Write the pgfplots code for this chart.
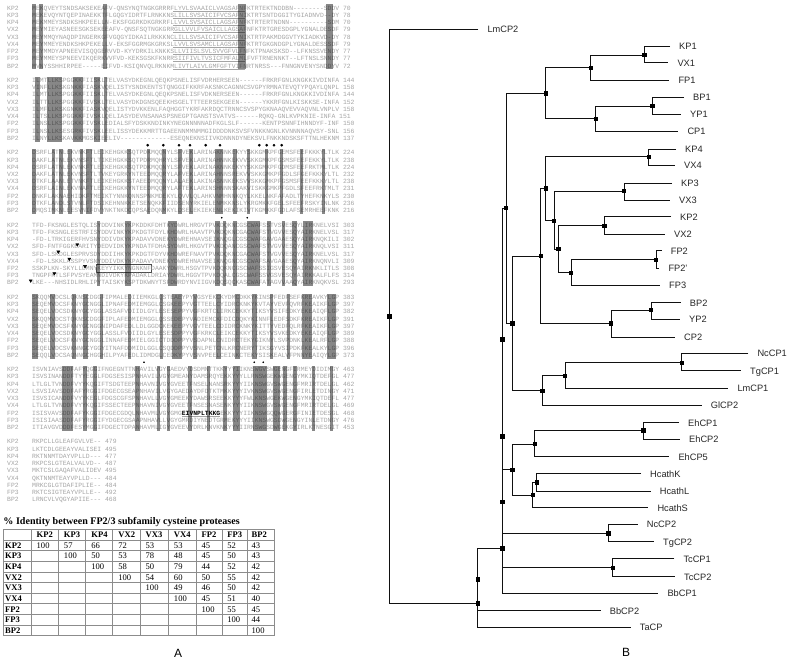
\documentclass[border=0pt]{standalone}
\usepackage{fontspec}
\setmainfont{Liberation Sans}
\setmonofont{Liberation Mono}
\newfontfamily\serif{Liberation Serif}
\usepackage{pgfplots}
\pgfplotsset{compat=1.18}
\definecolor{seqgray}{HTML}{A4A4A4}
\definecolor{gridgray}{HTML}{8C8C8C}
\definecolor{treegray}{HTML}{111111}
\tikzset{
  seqtxt/.style={anchor=base west,inner sep=0pt,text=seqgray,font=\ttfamily\fontsize{6.42}{7}\selectfont},
  leaf/.style={anchor=base west,inner sep=0pt,text=black!85,font=\fontsize{9.3}{11}\selectfont},
  tab/.style={anchor=base west,inner sep=0pt,text=black},
  treeline/.style={draw=treegray,line width=0.75pt},
  gridline/.style={draw=gridgray,line width=0.7pt}}
\newcommand\yz{8}
\newcommand\ys{7.23}
% alignment row: #1 row slot, #2 name, #3 sequence + end position
\newcommand\srow[3]{%
  \node[seqtxt] at (axis cs:7,{\yz+\ys*#1+2.2}) {#2};
  \node[seqtxt] at (axis cs:32,{\yz+\ys*#1+2.2}) {#3};}
% shaded alignment box (drawn over the letters, half transparent)
\newcommand\bx[4]{\addplot[on layer=axis foreground,fill=black,fill opacity=0.47,draw=none] coordinates {(#1,#3) (#2,#3) (#2,#4) (#1,#4)} --cycle;}
\newcommand\bxA[2]{\bx{#1}{#2}{4.4}{69.4}}
\newcommand\bxB[2]{\bx{#1}{#2}{76.7}{141.7}}
\newcommand\bxC[2]{\bx{#1}{#2}{149}{214}}
\newcommand\bxD[2]{\bx{#1}{#2}{221.3}{286.3}}
\newcommand\bxE[2]{\bx{#1}{#2}{293.6}{358.6}}
\newcommand\bxF[2]{\bx{#1}{#2}{365.9}{430.9}}
% tree bracket
\newcommand\br[5]{\addplot[treeline] coordinates {(#1,#2) (#3,#2) (#3,#4) (#5,#4)};}
\newcommand\lf[3]{\node[leaf] at (axis cs:{#2+9},{#3+3.4}) {#1};}
% table
\newcommand\hl[1]{\addplot[gridline] coordinates {(3.3,#1) (274,#1)};}
\newcommand\vl[1]{\addplot[gridline] coordinates {(#1,529.3) (#1,635.7)};}
\newcommand\tc[4]{\node[tab,font=\serif\fontsize{8.6}{10}\selectfont#4] at (axis cs:{#1},{534.6+10.64*#2+3}) {#3};}
\begin{document}
\begin{tikzpicture}
\begin{axis}[width=790bp,height=662bp,scale only axis,set layers,
  xmin=0,xmax=790,ymin=0,ymax=662,y dir=reverse,hide axis,clip=false]
% ---------- shaded columns ----------
\bxA{31.7}{35.7}\bxA{39}{43.3}\bxA{103.3}{107.3}\bxA{237.7}{245.7}\bxA{326}{333.3}
\bxB{35}{39.5}\bxB{46.7}{61.7}\bxB{72.7}{83.3}\bxB{94}{100}\bxB{104}{107.3}
\bxC{31.7}{35.7}\bxC{51.7}{55}\bxC{59.3}{62.7}\bxC{68.3}{71.7}\bxC{80}{83.3}\bxC{86}{91.7}\bxC{100}{103.3}
\bxC{127.3}{130.7}\bxC{146.7}{150}\bxC{162.3}{165.7}\bxC{178.3}{181.7}\bxC{189.3}{192.7}\bxC{215}{222.7}
\bxC{233.3}{237.3}\bxC{246.7}{250}\bxC{265}{268.3}\bxC{280}{283.3}\bxC{300}{303.3}\bxC{321.7}{325.3}
\bxD{96.7}{100}\bxD{125}{130.7}\bxD{168.3}{177.3}\bxD{215}{220}\bxD{222.7}{226}\bxD{233.3}{237.3}
\bxD{246.7}{260}\bxD{266.7}{270.7}\bxD{281.7}{285}\bxD{291.7}{296.7}\bxD{303.3}{313.3}
\bxE{31.7}{38.3}\bxE{50}{55}\bxE{71.7}{76}\bxE{83.3}{88.3}\bxE{100}{103.3}\bxE{127.7}{131}\bxE{160}{163.3}
\bxE{171.7}{181.7}\bxE{193.3}{196.7}\bxE{216}{220.7}\bxE{235}{240}\bxE{251.7}{256.7}\bxE{270}{273.3}
\bxE{286.7}{290}\bxE{301.7}{312}\bxE{326.7}{336}
\bxF{61.7}{73.3}\bxF{83.3}{86.7}\bxF{93.3}{96.7}\bxF{135}{140}\bxF{156.7}{160}\bxF{166.7}{170}
\bxF{188.3}{191.7}\bxF{206.7}{210}\bxF{223.3}{226.7}\bxF{233.3}{240}\bxF{253.3}{266.7}\bxF{273.3}{280}
\bxF{283.3}{286.7}\bxF{293.3}{296.7}\bxF{311.7}{315}\bxF{330}{333.3}
% underlined segment, block 1
\addplot[draw=seqgray,line width=0.4pt] coordinates {(173,11) (245,11)};
\addplot[draw=seqgray,line width=0.4pt] coordinates {(173,18.2) (245,18.2)};
\addplot[draw=seqgray,line width=0.4pt] coordinates {(173,25.5) (245,25.5)};
\addplot[draw=seqgray,line width=0.4pt] coordinates {(173,32.7) (245,32.7)};
\addplot[draw=seqgray,line width=0.4pt] coordinates {(173,39.9) (245,39.9)};
\addplot[draw=seqgray,line width=0.4pt] coordinates {(173,47.2) (245,47.2)};
\addplot[draw=seqgray,line width=0.4pt] coordinates {(173,54.4) (245,54.4)};
\addplot[draw=seqgray,line width=0.4pt] coordinates {(173,61.6) (245,61.6)};
\addplot[draw=seqgray,line width=0.4pt] coordinates {(173,68.8) (245,68.8)};
% boxed segment FP2 block 4
\addplot[draw=black!70,line width=0.5pt] coordinates {(96.7,264.5) (151.7,264.5) (151.7,272) (96.7,272)} --cycle;
% markers
\addplot[only marks,mark=*,mark size=1.15pt,black] coordinates {(147.7,145.2) (163.3,145.2) (179,145.2) (190,145.2) (205.7,145.2) (220,145.2) (259.3,145.2) (266.7,145.2) (274,145.2) (281.7,145.2)};
\addplot[only marks,mark=*,mark size=0.6pt,black] coordinates {(221.7,217.7) (247.3,217.7) (144,362.3) (254.3,362.3) (263.3,362.3)};
\addplot[on layer=axis foreground,only marks,mark=triangle*,mark size=1.7pt,black,mark options={rotate=180}] coordinates {(77.3,244.6) (58.3,251.8) (69.3,259) (85,266.3) (54.3,273.5) (30.7,280.7)};
% ---------- alignment text ----------
\srow{0}{KP2}{MEKQVEYTSNDSAKSEKEAFV-QNSYNQTNGKGRRRFLYVLSVAAICLVAGSAFNFKTRTEKTNDDBN--------SDDV 70}
\srow{1}{KP3}{MEKEVQYNTQEPINAEKKTFLGQGYIDRTFLRNKKNSLILLSVSAICIFVCSAFNIKTRTSNTDGGITYGIADNVD--DY 78}
\srow{2}{KP4}{MEKMMEYSNDKSHKPEELLN-EKSFGGRKDKGRKRFLLVVLSVSAICLLAGSAFNFKTRTERTNDNN----------SDM 70}
\srow{3}{VX2}{MEYMIEYASNEESGKSEKEEAFV-QNSFSQTNGKGRRGLLVVLFVSAICLLAGSAFNFKTRTGRESDGPLYGNALDESDF 79}
\srow{4}{VX3}{MEYMMQYNAQDPINGERKGFVGQGYIDKAILRKKKNCLILLSVSAICIFVCSAFNIKTRTPAKMDGGVTYKIADKVD-DY 78}
\srow{5}{VX4}{MEYMMEYENDKSHKPEKELLV-EKSFGGRMGKGRKSLLVVLSVSAMCLLAGSAFNFKTRTGKGNDGPLYGNALDESSSDF 79}
\srow{6}{FP2}{MEYMMDYAPNEEVISQQGERVVD-KYYDRKILKNKKSLLVIISLSVLSVVGFVLFNFKTPNAKSKSD--LFKNSSVENDY 77}
\srow{7}{FP3}{MEYMMEYSPNEEVIKQERKVVFVD-KEKSGSKFKNRRSIIFIVLTVSICFMFALMLFVFTRNENNKT--LFTNSLSNNDY 77}
\srow{8}{BP2}{MVNYSSHHIRPEE-----EIFVD-KSIQNVQLRKNKMLIVTLAIVLGMFGFTVIFNRTNRSS---FNNGNVENYSNDDYV 72}
\srow{10}{KP2}{ILMTLLKSPGGKKFIISKLTELVASYDKEGNLQEQKPSNELISFVDRHERSEEN------FRKRFGNLKNGKKIVDINFA 144}
\srow{11}{KP3}{VINFLLKSKGNKKFIASKVQELISTYSNDKENTSTQNGGIFKKRFAKSNKCAGNNCSVGPYRMNATEVQTYPQAYLQNPL 158}
\srow{12}{KP4}{ILMTLLKSPGGKKFIISKLTELVASYDKEGNLQEQKPSNELISFVDKNERSEEN------FRKRFGNLKNGKKIVDINFA 144}
\srow{13}{VX2}{ILTTLLKSPGGKKFIVSKLTELVASYDKDGNSQEEKHSGELTTTEERSEKGEEN------YKKRFGNLKISKKSE-INFA 152}
\srow{14}{VX3}{ILMFLLKSKGNKKFIASKVQELISTYDVKKENLFAQHGGTYKRFAKRDQCTRNNCSVSPYGKNAAQVEVVAQVNLVNPLV 158}
\srow{15}{VX4}{ILTSLLKSPGGKKFIVSKLQELIASYDEVNSANASPSNEGPTGANSTSVATVS------RQKQ-GNLKVPKNIE-INFA 151}
\srow{16}{FP2}{ILNSLLKSPGGKKFIVSKLEDIALSFYDSKKNDINKYNEGNNNNNADFKGLSLF------KENTPSNNFIHNNDYF-INF 150}
\srow{17}{FP3}{ILNSLLKSESGRKFIVSKLEELISSYDEKKMRTTGAEENNMMNMMGIDDDDNKSVSFVNKKNGNLKVNNNNAQVSY-SNL 156}
\srow{18}{BP2}{ILNYLLKSKAVKKMGSKIEELIV-------------ESEQNEKNSIIVKDNNNDYNEKSVLFNKKNDSKSFTTNLHEKNM 137}
\srow{20}{KP2}{DSRFLATNLEKVNKFTLEIKEHGKKSQTPDKMQQNYLSFVEKLARINAKNNKEKYYSKKGMKPFGEMSFEEFKKKYLTLK 224}
\srow{21}{KP3}{DAKFLATNLEKVNSFTLTIKEHGKKSQTPDRMQHRYLSFVEKLARINAHNNKEKVVSKKGMKPFGSMSFEEFEKKYLTLK 238}
\srow{22}{KP4}{DSRFLATNLEKVNKFTLEIKEHGKKSQTPDKMQQNYLSFVEKLARINAKNNKEKYYSKKGMKPFGDMSFEEFRKTMLTLK 224}
\srow{23}{VX2}{DAKFLATNLEKVNSFTLTVKEYGRKYNTEEDMQQRYLAFVEKLARINAHNNSREKVVSKKGMKPFGDLSFGEFKKKYLTL 232}
\srow{24}{VX3}{DTKFLAANLETVNKFTLEIKEHGKKSTAEEDMQQNYLALAEKLAKINASNNKEKSVVSKKGMKPFGSMSFEEFKKKYLTL 238}
\srow{25}{VX4}{DSRFLAINLEKVNAFTLEIKEHGKKYNTEEDMQQRYLAFTEKLARINSHNNNSKAKVISKKGMKPFGDLSFEEFRKTMLT 231}
\srow{26}{FP2}{DNKFLAKNAEHIDKFTMEIKTYNNKQNNSPNKMDEKYLQVVLQLAHKVNMHNNKQYLKKELNKFAFADLTYHEFKNKYLS 230}
\srow{27}{FP3}{DTKFLANDLSTVNLFTDSIKEHNNKKETSENQKKFIIDSENYRKIELENMKKNSLYKRGMKKFGELSFEEFRSKYINLNK 236}
\srow{28}{BP2}{DMQSIMKNLEESVNIFDVYNKTNKDCQPSAEDQNMKYLDSELEKIEKENLKEKIKIVTKGMKKFGDLAFSEMRHEEFKNK 216}
\srow{30}{KP2}{TFD-FKSNGLESTQLISYDDVINKYKPKDDKFDHTKYDWRLHRGVTPVKDQKNCGSCWAFSSTVSVESQYLIRKNELVSI 303}
\srow{31}{KP3}{TFD-FKSNGLESTRFISYDDVINKYKPKDGTFDYLKHDWRLHAAVTPVKDQKNCGACWAFSTVGVVESQYAIRKNELVSL 317}
\srow{32}{KP4}{-FD-LTRKIGERFHVSNYDDIVDKYKPADAVVDNEKYDWREHNAVSEIKNQGLCGSCWAFGAVGAAESQYAIRKNQKILI 302}
\srow{33}{VX2}{SFD-FNTFGGKEARITYDEDVIDKYKPNDATFDHASYDWRLHKGVTPVKDQANCGSCWAFSTVGVVESQYAIRKNQLVSI 311}
\srow{34}{VX3}{SFD-LSKDGLESPRVSDYDDIIHKYKPKDGTFDYVKHDWREFNAVTPVKDQKNCGACWAFSTVGVVESQYAIRKNELVSL 317}
\srow{35}{VX4}{-FD-LSKKLASSPYVSNYDDIVDKYKPADAVVDNEKYDWREHNAVSEIKNQGNCGSCWAFSAVGAAESQYAIRKNQNVLI 309}
\srow{36}{FP2}{SSKPLKN-SKYLLDMNYKEYYIKKYNGNKNFDAAKYDWRLHSGVTPVKDQKNCGSCWAFSSIGSVESQYAIRKNKLITLS 308}
\srow{37}{FP3}{TNGPFKTLSFPVSYEAMNDIVDKYKPADAKLDRIAYDWRLHGGVTPVKDQALCGSCWAFSSVGSVESQYAIRKKALFLFS 314}
\srow{38}{BP2}{LKE---NHSIDLRHLIPYTAISKYKSPTDKWNYTSFDWRDYNVIIGVKDQSQCKASCWAFATAGVVAAQYAIRKNQKVSL 293}
\srow{40}{KP2}{SKQQMVDCSLQKNSCDGGFIPMALEDIIEMKGLQSTEAEYPYVGSYEKCKYDMCDKKYKINSPFEDFSEFKREAVKYLGP 383}
\srow{41}{KP3}{SEQEMVDCSFKNYGCNGGLIPNAFEDMIEMGGLCSGKEEPYVGTTEELCYIDRCKNKYKVTAYVEVFQVRFKEAIKFLGP 397}
\srow{42}{KP4}{SEQELVDCSDKNYGCYGGLASSAFVDIIDLGYLESESEPPYVGFKRTCLIRKCEKKYTIKSYVSIFEDKYEKEAIQFLGP 382}
\srow{43}{VX2}{SKQQMVDCSTQKNSCDGGFIPLAFEDMIEMGGLQSSEDEPYVADIEMCKFDICDQKYKINNFLEDFSDKFKREAIKFLGP 391}
\srow{44}{VX3}{SEQEMVDCSFKNYGCNGGNIPDAFEDLLDLGGDCKEKEEPYVGVTEELCDIDRCKNKYKITTYVEDFQLRFKEAIKFLGP 397}
\srow{45}{VX4}{SEQELVDCSDKNYGCYGGLASSLFVDIIDLGYLESESDPPYVGFKRKCLEIKCEKKYTIKSYVSVKEDKYEKEAIQFLGP 389}
\srow{46}{FP2}{SEQELVDCSFKNYGCNGGLINNAFEDMIELGGICTDDDPPYVSDAPNLCNIDRCTEKYGIKNYLSVPDNKLKEALRFLGP 388}
\srow{47}{FP3}{SEQELVDCSVKNNGCYGGYITNAFDDMIDLGGLCSQDDPPYVSNLPETCNLKRCNERYTIKSGYVSIPDKFKEALKYLGP 396}
\srow{48}{BP2}{SEQQLVDCSAQNNGCHGGHILPYAFEDLIDMDGLCEDKYPYVSNVPEELCEINKCTEKYSISKEALVFPNNYEAIQYLGP 373}
\srow{50}{KP2}{ISVNIAVSDDFAFYQGGIFNGEGNTTNHAVILVGYGAEDVYDSDMNTTKKYYYIIKNSWGVSWGENGFIRMEYDIDIMGY 463}
\srow{51}{KP3}{ISVSINANDDFTYYEGGLFDGSESISPNHAVILVGYGMEANYDAMSRQYEKKYYYLLRNSWGEKWGENGYMKIQTDEFGL 477}
\srow{52}{KP4}{LTLGLTVNDDFVYYKQGIFTSDGTEEPNHAVNIVGYGVEETFNSELNANSRKYYYIIKNSWGVSWGENGFMRIRTDELGL 462}
\srow{53}{VX2}{LSVSIAVSDDFAFYRGGIFDGECGSEAPNHAVILVGYGAEDAYDFDTKTMKKYYYIVKNSWGVSWGENGFIRLETDINGY 471}
\srow{54}{VX3}{ISVSICANDDFVYYKEGLFDGSCGFSPNHAVLLVGYGMEEKYDAWSRSEEKKYYYFWLKNSWGEKWGENGYMKIQTDEFL 477}
\srow{55}{VX4}{LTLGLTVNDDFVYYKQGIFSSECTEEPNHAVNIVGYGVEETFNSESNASENKYYYIIKNSWGVSWGENGFMRIRTDELGL 469}
\srow{56}{FP2}{ISISVAVSDDFAFYKGGIFDGECGDQLNHAVMLVGYGMG\underline{\textbf{\textcolor{black}{EIVNPLTKKG}}}EKKYYYIIKNSWGQQWGERGFINIETDESGL 468}
\srow{57}{FP3}{ISISIAASDDFAFYRGGIFYDGECGSAAPNHAVLLVGYGMRDIYNEDTGRMEKYYYIIKNSWGSDWGENGYINLETDNGY 476}
\srow{58}{BP2}{ITIAVGVDDDFESYMGGIFDGECTDPANHAVMLIGYGVEEVYDRLKNVKNKYYYIIRNSWGSDWGEKGYIRLKTNESGIT 453}
\srow{60}{KP2}{RKPCLLGLEAFGVLVE-- 479}
\srow{61}{KP3}{LKTCDLGEEAYVALISEI 495}
\srow{62}{KP4}{RKTNNMTDAYVPLLD--- 477}
\srow{63}{VX2}{RKPCSLGTEALVALVD-- 487}
\srow{64}{VX3}{MKTCSLGAQAFVALIDEV 495}
\srow{65}{VX4}{QKTNNMTEAYVPLLD--- 484}
\srow{66}{FP2}{MRKCGLGTDAFIPLIE-- 484}
\srow{67}{FP3}{RKTCSIGTEAYVPLLE-- 492}
\srow{68}{BP2}{LRNCVLVQGYAPIIE--- 468}
% ---------- identity table ----------
\node[tab,font=\serif\bfseries\fontsize{10.1}{12}\selectfont] at (axis cs:3.3,525) {\% Identity between FP2/3 subfamily cysteine proteases};
\hl{529.3}\hl{539.9}\hl{550.6}\hl{561.2}\hl{571.9}\hl{582.5}\hl{593.1}\hl{603.8}\hl{614.4}\hl{625.1}\hl{635.7}
\vl{3.3}\vl{31}\vl{58.3}\vl{85.7}\vl{112.7}\vl{140}\vl{168.3}\vl{196}\vl{222.7}\vl{247.7}\vl{274}
\tc{36.5}{0}{KP2}{\bfseries}\tc{63.8}{0}{KP3}{\bfseries}\tc{91.2}{0}{KP4}{\bfseries}\tc{118.2}{0}{VX2}{\bfseries}
\tc{145.5}{0}{VX3}{\bfseries}\tc{173.8}{0}{VX4}{\bfseries}\tc{201.5}{0}{FP2}{\bfseries}\tc{227.2}{0}{FP3}{\bfseries}\tc{251.5}{0}{BP2}{\bfseries}
\tc{5}{1}{KP2}{\bfseries}\tc{5}{2}{KP3}{\bfseries}\tc{5}{3}{KP4}{\bfseries}\tc{5}{4}{VX2}{\bfseries}\tc{5}{5}{VX3}{\bfseries}
\tc{5}{6}{VX4}{\bfseries}\tc{5}{7}{FP2}{\bfseries}\tc{5}{8}{FP3}{\bfseries}\tc{5}{9}{BP2}{\bfseries}
\tc{36.5}{1}{100}{}\tc{63.8}{1}{57}{}\tc{91.2}{1}{66}{}\tc{118.2}{1}{72}{}\tc{145.5}{1}{53}{}\tc{173.8}{1}{53}{}\tc{201.5}{1}{45}{}\tc{227.2}{1}{52}{}\tc{251.5}{1}{43}{}
\tc{63.8}{2}{100}{}\tc{91.2}{2}{50}{}\tc{118.2}{2}{53}{}\tc{145.5}{2}{78}{}\tc{173.8}{2}{48}{}\tc{201.5}{2}{45}{}\tc{227.2}{2}{50}{}\tc{251.5}{2}{43}{}
\tc{91.2}{3}{100}{}\tc{118.2}{3}{58}{}\tc{145.5}{3}{50}{}\tc{173.8}{3}{79}{}\tc{201.5}{3}{44}{}\tc{227.2}{3}{52}{}\tc{251.5}{3}{42}{}
\tc{118.2}{4}{100}{}\tc{145.5}{4}{54}{}\tc{173.8}{4}{60}{}\tc{201.5}{4}{50}{}\tc{227.2}{4}{55}{}\tc{251.5}{4}{42}{}
\tc{145.5}{5}{100}{}\tc{173.8}{5}{49}{}\tc{201.5}{5}{46}{}\tc{227.2}{5}{50}{}\tc{251.5}{5}{42}{}
\tc{173.8}{6}{100}{}\tc{201.5}{6}{45}{}\tc{227.2}{6}{51}{}\tc{251.5}{6}{40}{}
\tc{201.5}{7}{100}{}\tc{227.2}{7}{55}{}\tc{251.5}{7}{45}{}
\tc{227.2}{8}{100}{}\tc{251.5}{8}{44}{}
\tc{251.5}{9}{100}{}
% ---------- tree ----------
\br{478.3}{29.3}{389.3}{603.3}{477.7}
\br{477.7}{579.3}{477.7}{627.3}{630.7}
\br{502.3}{548.3}{477.7}{610.7}{600.7}
\br{502.3}{502}{502.3}{593.3}{658.3}
\br{502.3}{436.3}{502.3}{567.7}{612.7}
\br{502.3}{339.3}{502.3}{533.3}{608.3}
\br{506}{208}{502.3}{469.7}{512.3}
\br{545.7}{93.3}{506}{323.3}{512.3}
\br{534.7}{444}{512.3}{495}{532.7}
\br{540.7}{256}{512.3}{390.7}{542.3}
\br{590.7}{67.7}{545.7}{118.7}{595.7}
\br{644.3}{55}{590.7}{80}{669.3}
\br{670}{46}{644.3}{62.7}{668.3}
\br{652.3}{106}{595.7}{131.3}{678.3}
\br{684}{97}{652.3}{114.3}{681}
\br{545.7}{188.3}{540.7}{323.3}{611}
\br{648.7}{156.7}{545.7}{220.7}{554}
\br{676}{149}{648.7}{165.3}{675}
\br{624}{191}{554}{249}{558.3}
\br{672}{183}{624}{200}{670}
\br{604.3}{225.7}{558.3}{272.7}{571}
\br{671}{216.7}{604.3}{234.3}{665}
\br{656}{259.7}{571}{285}{660}
\br{661.7}{250.7}{656}{268}{659.3}
\br{651}{310}{611}{337.3}{675}
\br{680.7}{302.7}{651}{319.3}{680}
\br{565}{375.7}{542.3}{405}{701.7}
\br{681.7}{362.7}{565}{388.3}{728.3}
\br{748.3}{353.3}{681.7}{370.7}{741}
\br{643.3}{430.3}{534.7}{456.7}{669.3}
\br{679}{422.7}{643.3}{439}{680}
\br{536.7}{482.3}{532.7}{507.7}{648.3}
\br{641}{473.7}{536.7}{491.3}{650.7}
\br{637.7}{524.3}{608.3}{541.7}{654}
\br{674.3}{558.7}{612.7}{576.7}{675}
\addplot[only marks,mark=square*,mark size=1.7pt,black] coordinates {
(389.3,316.3) (477.7,603.3) (477.7,579.3) (502.3,548.3) (502.3,502) (502.3,436.3) (502.3,339.3)
(506,208) (512.3,469.7) (512.3,323.3) (545.7,93.3) (590.7,67.7) (644.3,55) (595.7,118.7) (652.3,106)
(540.7,256) (545.7,188.3) (648.7,156.7) (554,220.7) (624,191) (558.3,249) (604.3,225.7) (571,272.7)
(656,259.7) (611,323.3) (651,310) (542.3,390.7) (565,375.7) (681.7,362.7) (534.7,444) (643.3,430.3)
(532.7,495) (536.7,482.3) (608.3,533.3) (612.7,567.7)};
\lf{LmCP2}{478.3}{29.3}\lf{KP1}{670}{46}\lf{VX1}{668.3}{62.7}\lf{FP1}{669.3}{80}
\lf{BP1}{684}{97}\lf{YP1}{681}{114.3}\lf{CP1}{678.3}{131.3}\lf{KP4}{676}{149}
\lf{VX4}{675}{165.3}\lf{KP3}{672}{183}\lf{VX3}{670}{200}\lf{KP2}{671}{216.7}
\lf{VX2}{665}{234.3}\lf{FP2}{661.7}{250.7}\lf{FP2'}{659.3}{268}\lf{FP3}{660}{285}
\lf{BP2}{680.7}{302.7}\lf{YP2}{680}{319.3}\lf{CP2}{675}{337.3}\lf{NcCP1}{748.3}{353.3}
\lf{TgCP1}{741}{370.7}\lf{LmCP1}{728.3}{388.3}\lf{GlCP2}{701.7}{405}\lf{EhCP1}{679}{422.7}
\lf{EhCP2}{680}{439}\lf{EhCP5}{669.3}{456.7}\lf{HcathK}{641}{473.7}\lf{HcathL}{650.7}{491.3}
\lf{HcathS}{648.3}{507.7}\lf{NcCP2}{637.7}{524.3}\lf{TgCP2}{654}{541.7}\lf{TcCP1}{674.3}{558.7}
\lf{TcCP2}{675}{576.7}\lf{BbCP1}{658.3}{593.3}\lf{BbCP2}{600.7}{610.7}\lf{TaCP}{630.7}{627.3}
% panel letters
\node[anchor=base,inner sep=0pt,font=\fontsize{12}{14}\selectfont] at (axis cs:178,657.3) {A};
\node[anchor=base,inner sep=0pt,font=\fontsize{12}{14}\selectfont] at (axis cs:626,656) {B};
\end{axis}
\pgfresetboundingbox
\path (0,0) rectangle (790bp,662bp);
\end{tikzpicture}
\end{document}
